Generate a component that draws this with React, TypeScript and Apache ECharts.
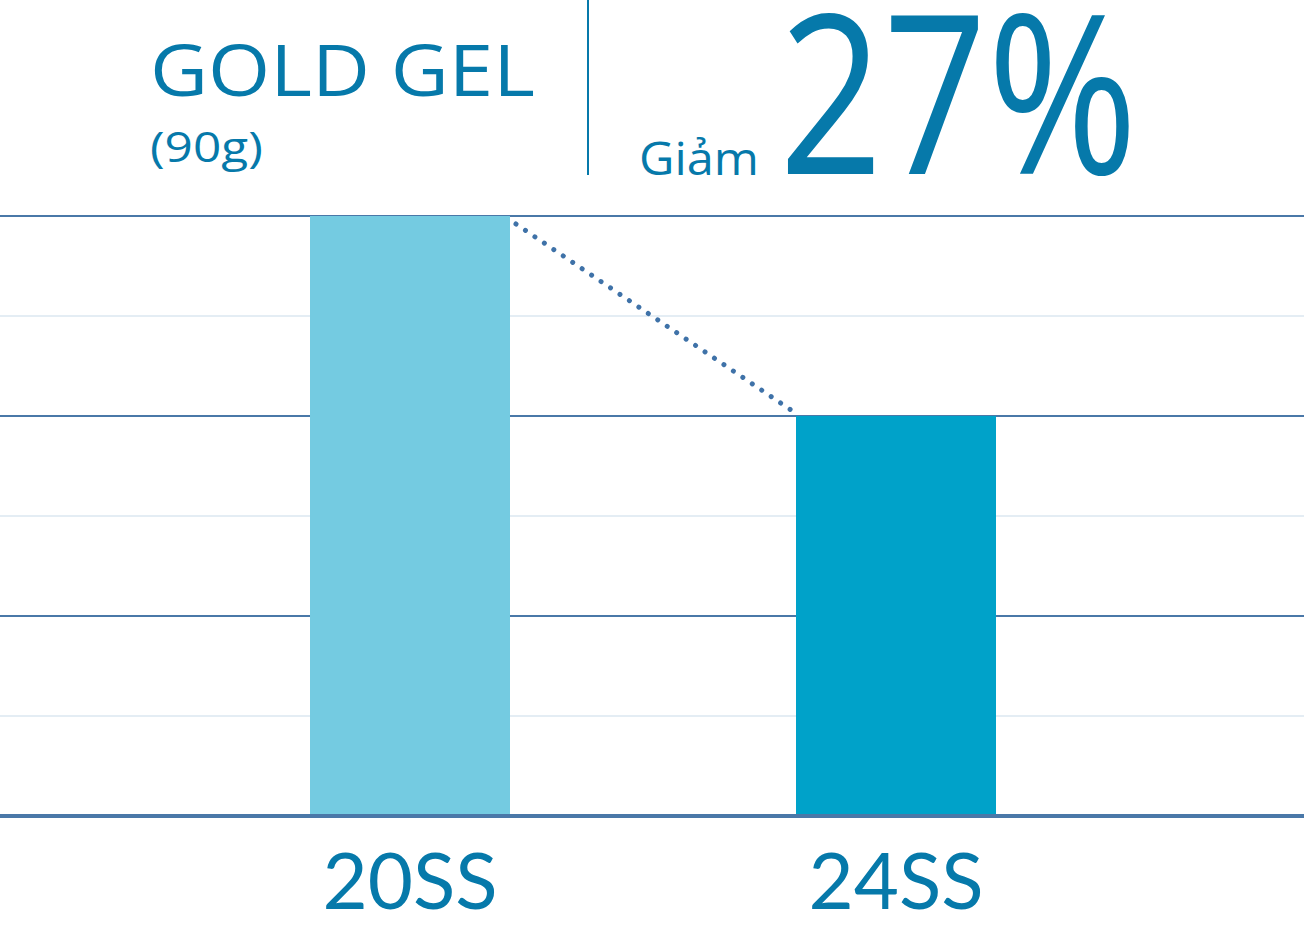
import React, { useEffect, useRef } from "react";
import * as echarts from "echarts";

const categories = ["20SS", "24SS"];
const values = [6, 4];
const barColors = ["#74cbe1", "#00a2c9"];
const yMin = 0;
const yMax = 6;
const yInterval = 1;
const titleText = "GOLD GEL";
const subText = "(90g)";
const dropLabel = "Giảm";
const dropValue = "27%";

const TEXT = "#0679aa";
const FONT = "'Open Sans', 'Noto Sans', sans-serif";

export default function App() {
  const ref = useRef<HTMLDivElement>(null);
  useEffect(() => {
    document.body.style.margin = "0";
    const chart = echarts.init(ref.current!, null, { renderer: "svg" });
    const gridTop = 216;
    const gridBottom = 930 - 816;
    const barW = 200;
    chart.setOption({
      animation: false,
      backgroundColor: "#ffffff",
      grid: [
        { left: 0, right: 0, top: gridTop, bottom: gridBottom, outerBoundsMode: "none" },
        { left: 167, right: 165, top: gridTop, bottom: gridBottom, outerBoundsMode: "none" },
      ],
      xAxis: [
        {
          gridIndex: 0,
          type: "category",
          data: [""],
          z: 10,
          axisLine: { show: true, lineStyle: { color: "#4a78a8", width: 4 } },
          axisTick: { show: false },
          axisLabel: { show: false },
          splitLine: { show: false },
        },
        {
          gridIndex: 1,
          type: "category",
          data: categories,
          axisLine: { show: false },
          axisTick: { show: false },
          splitLine: { show: false },
          axisLabel: {
            color: TEXT,
            fontSize: 78,
            lineHeight: 78,
            fontFamily: "Lato, 'Open Sans', sans-serif",
            margin: 24,
          },
        },
      ],
      yAxis: [
        {
          gridIndex: 0,
          type: "value",
          min: yMin,
          max: yMax,
          interval: yInterval,
          axisLine: { show: false },
          axisTick: { show: false },
          axisLabel: { show: false },
          splitLine: {
            show: true,
            lineStyle: { color: ["#4a78a8", "#e4edf4"], width: 2 },
          },
        },
        {
          gridIndex: 1,
          type: "value",
          min: yMin,
          max: yMax,
          interval: yInterval,
          axisLine: { show: false },
          axisTick: { show: false },
          axisLabel: { show: false },
          splitLine: { show: false },
        },
      ],
      series: [
        {
          type: "bar",
          xAxisIndex: 1,
          yAxisIndex: 1,
          barWidth: barW,
          data: values.map((v, i) => ({ value: v, itemStyle: { color: barColors[i] } })),
        },
      ],
      graphic: [
        {
          type: "text",
          x: 150,
          y: 32,
          scaleX: 1.11,
          style: {
            text: titleText,
            fill: TEXT,
            fontSize: 72,
            fontWeight: 500,
            fontFamily: FONT,
            verticalAlign: "top",
            align: "left",
          },
        },
        {
          type: "text",
          x: 150,
          y: 125,
          scaleX: 1.18,
          style: {
            text: subText,
            fill: TEXT,
            fontSize: 42,
            fontFamily: FONT,
            verticalAlign: "top",
            align: "left",
          },
        },
        {
          type: "rect",
          shape: { x: 587, y: 0, width: 2, height: 175 },
          style: { fill: TEXT },
        },
        {
          type: "text",
          x: 639,
          y: 134,
          scaleX: 1.06,
          style: {
            text: dropLabel,
            fill: TEXT,
            fontSize: 46,
            fontFamily: FONT,
            verticalAlign: "top",
            align: "left",
          },
        },
        {
          type: "text",
          x: 779,
          y: 88,
          scaleX: 1.64,
          scaleY: 2,
          style: {
            text: dropValue,
            fill: TEXT,
            fontSize: 111,
            lineHeight: 85,
            fontWeight: 400,
            fontFamily: FONT,
            verticalAlign: "middle",
            align: "left",
          },
        },
      ],
    });
    const p1 = chart.convertToPixel({ xAxisIndex: 1, yAxisIndex: 1 }, [categories[0], values[0]]) as number[];
    const p2 = chart.convertToPixel({ xAxisIndex: 1, yAxisIndex: 1 }, [categories[1], values[1]]) as number[];
    chart.setOption({
      graphic: [
        {
          id: "dots",
          type: "line",
          z: 20,
          shape: {
            x1: p1[0] + barW / 2 + 6,
            y1: p1[1] + 8,
            x2: p2[0] - barW / 2 - 5,
            y2: p2[1] - 6,
          },
          style: {
            stroke: "#3f72a8",
            lineWidth: 5,
            lineCap: "round",
            lineDash: [0.01, 11.4],
          },
        },
      ],
    });
    return () => chart.dispose();
  }, []);
  return <div ref={ref} style={{ width: 1304, height: 930 }} />;
}
